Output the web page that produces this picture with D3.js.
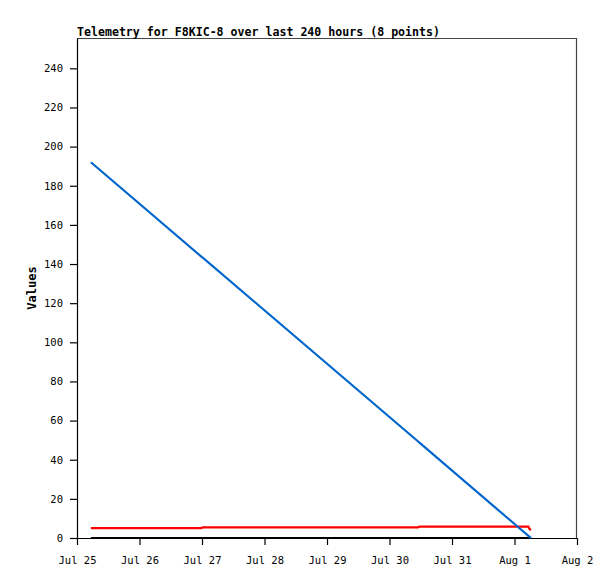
<!DOCTYPE html>
<html>
<head>
<meta charset="utf-8">
<script src="https://cdn.jsdelivr.net/npm/d3@7"></script>
<style>
  body { margin: 0; background: #fff; }
  text { font-family: "DejaVu Sans Mono", "Liberation Mono", monospace; }
</style>
</head>
<body>
<div id="chart"></div>
<script>
// Data (8 telemetry points)
const times = [
    "2024-07-25T05:20", "2024-07-26T23:50", "2024-07-27T00:10", "2024-07-30T11:00",
    "2024-07-30T11:30", "2024-08-01T05:20", "2024-08-01T05:50", "2024-08-01T06:20"
];
const blueValues = [192, 143.7, 143.4, 49.3, 48.7, 1.1, 0.6, 0];
const redValues = [5.0, 5.0, 5.4, 5.4, 5.8, 5.8, 4.5, 4.0];
const blackValues = [0, 0, 0, 0, 0, 0, 0, 0];
const yTicks = [0, 20, 40, 60, 80, 100, 120, 140, 160, 180, 200, 220, 240];
const xTickDates = ["2024-07-25", "2024-07-26", "2024-07-27", "2024-07-28", "2024-07-29",
    "2024-07-30", "2024-07-31", "2024-08-01", "2024-08-02"];

const parse = d3.timeParse("%Y-%m-%dT%H:%M");
const parseDay = d3.timeParse("%Y-%m-%d");

const margin = { top: 38, right: 38, bottom: 41, left: 77 };
const width = 615 - margin.left - margin.right;
const height = 579 - margin.top - margin.bottom;

const svg = d3.select("#chart")
    .append("svg")
    .attr("width", 615)
    .attr("height", 579);

const g = svg.append("g")
    .attr("transform", `translate(${margin.left},${margin.top})`);

// Scales
const x = d3.scaleTime()
    .domain([parseDay(xTickDates[0]), parseDay(xTickDates[xTickDates.length - 1])])
    .range([0, width]);

const y = d3.scaleLinear()
    .domain([0, 255.5])
    .range([height, 0]);

// Frame (top and right in grey)
g.append("path")
    .attr("d", `M0,0.5H${width - 0.5}V${height}`)
    .attr("fill", "none")
    .attr("stroke", "#444")
    .attr("stroke-width", 1.2);

// Axes
const xAxis = d3.axisBottom(x)
    .tickValues(xTickDates.map(parseDay))
    .tickFormat(d3.timeFormat("%b %-d"))
    .tickSize(7)
    .tickSizeOuter(0);

const yAxis = d3.axisLeft(y)
    .tickValues(yTicks)
    .tickSize(7)
    .tickSizeOuter(0);

const xg = g.append("g")
    .attr("transform", `translate(0,${height})`)
    .call(xAxis);
xg.selectAll("text")
    .attr("dy", "1.55em")
    .attr("font-size", 10.5)
    .attr("fill", "#000");

const yg = g.append("g").call(yAxis);
yg.selectAll("text")
    .attr("x", -14)
    .attr("font-size", 10.5)
    .attr("fill", "#000");

g.selectAll(".domain").attr("stroke", "#000").attr("stroke-width", 1.2);
g.selectAll(".tick line").attr("stroke", "#000").attr("stroke-width", 1.2);

// Series
const series = [
    { values: blackValues, color: "#000000" },
    { values: redValues, color: "#ff0000" },
    { values: blueValues, color: "#0066cc" }
];

const line = d3.line()
    .x(d => x(d.t))
    .y(d => y(d.v));

g.selectAll(".series")
    .data(series)
    .join("path")
    .attr("class", "series")
    .attr("fill", "none")
    .attr("stroke", d => d.color)
    .attr("stroke-width", 2.2)
    .attr("d", d => line(times.map((t, i) => ({ t: parse(t), v: d.values[i] }))));

// Title
svg.append("text")
    .attr("x", margin.left)
    .attr("y", 35.5)
    .attr("font-size", 12)
    .attr("font-weight", "bold")
    .attr("textLength", 363)
    .attr("lengthAdjust", "spacingAndGlyphs")
    .text("Telemetry for F8KIC-8 over last 240 hours (8 points)");

// Y axis label
svg.append("text")
    .attr("transform", `translate(36,${margin.top + height / 2}) rotate(-90)`)
    .attr("text-anchor", "middle")
    .attr("font-size", 12)
    .attr("font-weight", "bold")
    .text("Values");
</script>
</body>
</html>
